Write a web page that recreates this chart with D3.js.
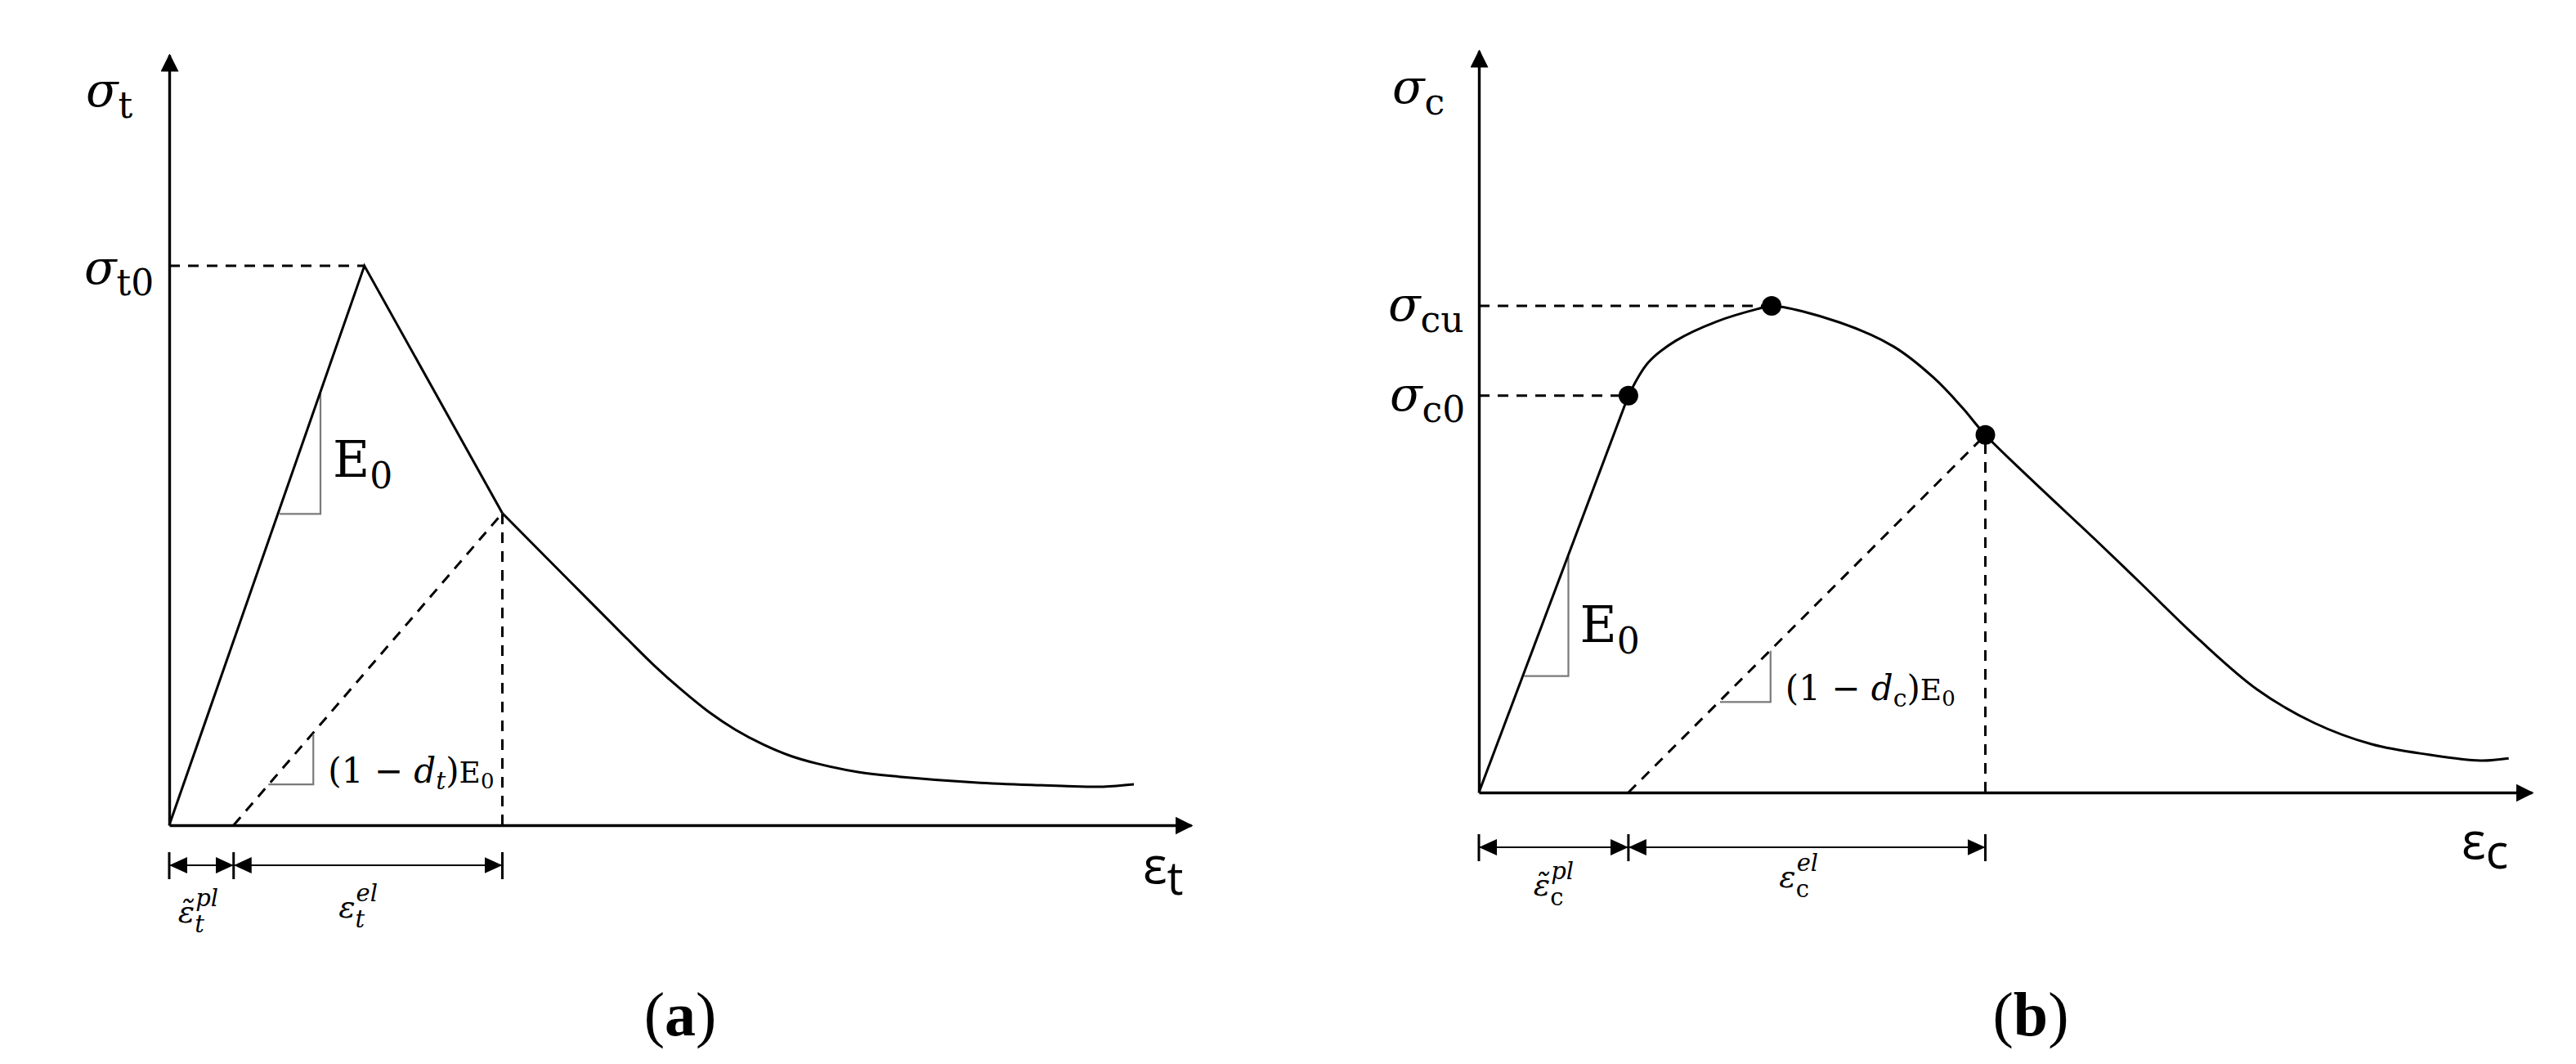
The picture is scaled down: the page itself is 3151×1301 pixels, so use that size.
<!DOCTYPE html>
<html>
<head>
<meta charset="utf-8">
<title>Tension and compression stress-strain</title>
<script src="https://cdn.jsdelivr.net/npm/d3@7"></script>
<style>
  body { margin: 0; background: #fff; }
  svg { display: block; }
  .curve { fill: none; stroke: #000; stroke-width: 3; }
  .guide { fill: none; stroke: #000; stroke-width: 3; stroke-dasharray: 13 10; }
  .slope { fill: none; stroke: #7a7a7a; stroke-width: 2.2; }
  .dim { stroke: #000; stroke-width: 2.2; }
  .dimTick { stroke: #000; stroke-width: 3; }
  .math { font-family: "DejaVu Serif", serif; fill: #000; }
  .axisName { font-family: "Open Sans", sans-serif; fill: #000; }
  .panelName { font-family: "Liberation Serif", serif; fill: #000; }
</style>
</head>
<body>
<script>
//panel (a) uniaxial tension, strain and stress in % of the drawn axis length
var tensionRise = [[0, 0], [19.1, 72.6], [32.6, 40.5]];
var tensionSoftening = [[32.6, 40.5], [39.4, 31.4], [44.8, 24.2], [47.4, 20.8], [50.1, 17.6],
                        [52.8, 14.7], [55.4, 12.4], [58.1, 10.5], [60.8, 9.0], [63.4, 8.0],
                        [67.4, 6.9], [71.4, 6.3], [79.4, 5.5], [87.4, 5.1], [91.4, 5.0], [94.4, 5.3]];
var tensionUnload = [[6.3, 0], [32.6, 40.5]];
var tensionHGuides = [[19.1, 72.6]];
var tensionVGuide = [32.6, 40.5];
var tensionSlopes = [[[10.8, 40.4], [14.8, 40.4], [14.8, 56.1]],
                     [[9.7, 5.3], [14.1, 5.3], [14.1, 11.8]]];
var tensionParts = [[0, 6.3], [6.3, 32.6]];

//panel (b) uniaxial compression
var compRise = [[0, 0], [14.2, 53.5]];
var compCurve = [[14.2, 53.5], [16.1, 58.0], [18.7, 60.9], [22.6, 63.5], [26.5, 65.2],
                 [27.8, 65.6], [34.2, 63.4], [39.4, 60.1], [43.2, 55.9],
                 [45.9, 51.9], [48.1, 48.2], [52.3, 42.4], [58.9, 33.6], [63.0, 28.0],
                 [68.4, 20.6], [73.9, 13.9], [79.3, 9.4], [84.8, 6.5], [90.2, 5.1],
                 [95.1, 4.3], [97.8, 4.6]];
var compPoints = [[14.2, 53.5], [27.8, 65.6], [48.1, 48.2]];
var compUnload = [[14.2, 0], [48.1, 48.2]];
var compHGuides = [[27.8, 65.6], [14.2, 53.5]];
var compVGuide = [48.1, 48.2];
var compSlopes = [[[4.3, 15.7], [8.5, 15.7], [8.5, 31.8]],
                  [[22.9, 12.2], [27.7, 12.2], [27.7, 19.1]]];
var compParts = [[0, 14.2], [14.2, 48.1]];

var svg = d3.select("body")
    .append("svg")
    .attr("width", 3151)
    .attr("height", 1301);

//arrow heads for axes and dimension lines
var defs = svg.append("defs");
defs.append("marker")
    .attr("id", "axisHead")
    .attr("viewBox", "0 0 22 22")
    .attr("refX", 20).attr("refY", 11)
    .attr("markerUnits", "userSpaceOnUse")
    .attr("markerWidth", 22).attr("markerHeight", 22)
    .attr("orient", "auto")
    .append("path").attr("d", "M0,0L22,11L0,22Z").attr("fill", "#000");
defs.append("marker")
    .attr("id", "dimHead")
    .attr("viewBox", "0 0 22 20")
    .attr("refX", 22).attr("refY", 10)
    .attr("markerUnits", "userSpaceOnUse")
    .attr("markerWidth", 22).attr("markerHeight", 20)
    .attr("orient", "auto-start-reverse")
    .append("path").attr("d", "M0,0L22,10L0,20Z").attr("fill", "#000");

//text made of tspans, each part can be shifted down (dy) from the baseline
function mathText(g, x, y, parts, cls){
    var t = g.append("text")
        .attr("class", cls || "math")
        .attr("x", x)
        .attr("y", y);
    var shift = 0;
    parts.forEach(function(p){
        var dy = p.dy || 0;
        t.append("tspan")
            .attr("font-size", p.size)
            .attr("font-style", p.italic ? "italic" : "normal")
            .attr("font-weight", p.bold ? "bold" : "normal")
            .attr("dy", dy - shift)
            .text(p.t);
        shift = dy;
    });
    return t;
}

//symbol with stacked subscript and superscript, centred on cx
function scriptText(g, cx, y, base, sub, subItalic, sup){
    var grp = g.append("g").attr("class", "math");
    var b = grp.append("text").attr("font-size", 38).attr("font-style", "italic").text(base);
    var w = b.node().getComputedTextLength();
    grp.append("text").attr("x", w).attr("y", 12)
        .attr("font-size", 29).attr("font-style", subItalic ? "italic" : "normal").text(sub);
    grp.append("text").attr("x", w + 1).attr("y", -20)
        .attr("font-size", 29).attr("font-style", "italic").text(sup);
    var bb = grp.node().getBBox();
    grp.attr("transform", "translate(" + (cx - bb.x - bb.width / 2) + "," + y + ")");
}

function drawPanel(p){
    var g = svg.append("g");
    var x = p.x, y = p.y;
    var line = d3.line().x(function(d){ return x(d[0]); }).y(function(d){ return y(d[1]); });
    var smooth = d3.line().x(function(d){ return x(d[0]); }).y(function(d){ return y(d[1]); })
        .curve(d3.curveCatmullRom.alpha(0.5));

    //dashed guides to the axes and the unloading line
    p.hGuides.forEach(function(pt){
        g.append("path").attr("class", "guide").attr("d", line([[0, pt[1]], pt]));
    });
    g.append("path").attr("class", "guide").attr("d", line([[p.vGuide[0], 0], p.vGuide]));
    g.append("path").attr("class", "guide").attr("d", line(p.unload));

    //slope triangles
    p.slopes.forEach(function(s){
        g.append("path").attr("class", "slope").attr("d", line(s));
    });

    //stress-strain curve
    g.append("path").attr("class", "curve").attr("d", line(p.rise));
    g.append("path").attr("class", "curve").attr("d", smooth(p.curve));

    g.selectAll(".pt")
        .data(p.dots)
        .enter()
        .append("circle")
        .attr("class", "pt")
        .attr("cx", function(d){ return x(d[0]); })
        .attr("cy", function(d){ return y(d[1]); })
        .attr("r", 12);

    //axes, no ticks, arrow at the end
    g.append("g")
        .attr("transform", "translate(0," + y(0) + ")")
        .call(d3.axisBottom(x).tickValues([]).tickSizeOuter(0))
        .select(".domain")
        .attr("stroke-width", 3.4)
        .attr("marker-end", "url(#axisHead)");
    g.append("g")
        .attr("transform", "translate(" + x(0) + ",0)")
        .call(d3.axisLeft(y).tickValues([]).tickSizeOuter(0))
        .select(".domain")
        .attr("stroke-width", 3.4)
        .attr("marker-end", "url(#axisHead)");

    //strain split dimension lines
    p.parts.forEach(function(s){
        g.append("line")
            .attr("class", "dim")
            .attr("x1", x(s[0])).attr("x2", x(s[1]))
            .attr("y1", p.dimY).attr("y2", p.dimY)
            .attr("marker-start", "url(#dimHead)")
            .attr("marker-end", "url(#dimHead)");
    });
    var edges = [p.parts[0][0], p.parts[0][1], p.parts[1][1]];
    edges.forEach(function(e){
        g.append("line")
            .attr("class", "dimTick")
            .attr("x1", x(e)).attr("x2", x(e))
            .attr("y1", p.dimY - 16).attr("y2", p.dimY + 17);
    });
    return g;
}

//panel (a)
var xA = d3.scaleLinear().domain([0, 100]).range([207, 1457]);
var yA = d3.scaleLinear().domain([0, 100]).range([1009, 67]);
var gA = drawPanel({
    x: xA, y: yA, rise: tensionRise, curve: tensionSoftening, unload: tensionUnload,
    hGuides: tensionHGuides, vGuide: tensionVGuide, slopes: tensionSlopes,
    parts: tensionParts, dots: [], dimY: 1058
});

mathText(gA, xA(0) - 102, yA(100) + 63, [{t: "σ", size: 58, italic: true}, {t: "t", size: 44, dy: 14}]);
mathText(gA, xA(0) - 104, yA(tensionHGuides[0][1]) + 22, [{t: "σ", size: 58, italic: true}, {t: "t0", size: 44, dy: 14}]);
mathText(gA, xA(tensionSlopes[0][1][0]) + 15, yA(tensionSlopes[0][1][1]) - 45,
    [{t: "E", size: 62}, {t: "0", size: 44, dy: 14}]);
mathText(gA, xA(tensionSlopes[1][1][0]) + 18, yA(tensionSlopes[1][1][1]) - 2,
    [{t: "(1 − ", size: 42}, {t: "d", size: 42, italic: true}, {t: "t", size: 30, italic: true, dy: 8},
     {t: ")", size: 42}, {t: "E", size: 36}, {t: "0", size: 26, dy: 7}]);
mathText(gA, xA(100) - 59, yA(0) + 71, [{t: "ε", size: 62}, {t: "t", size: 56, dy: 14}], "axisName");
scriptText(gA, (xA(tensionParts[0][0]) + xA(tensionParts[0][1])) / 2 - 4, 1128, "ε\u0303", "t", true, "pl");
scriptText(gA, (xA(tensionParts[1][0]) + xA(tensionParts[1][1])) / 2 - 12, 1122, "ε", "t", true, "el");
mathText(gA, 832, 1266, [{t: "(", size: 76}, {t: "a", size: 76, bold: true}, {t: ")", size: 76}], "panelName")
    .attr("text-anchor", "middle");

//panel (b)
var xB = d3.scaleLinear().domain([0, 100]).range([1809, 3097]);
var yB = d3.scaleLinear().domain([0, 100]).range([969, 62]);
var gB = drawPanel({
    x: xB, y: yB, rise: compRise, curve: compCurve, unload: compUnload,
    hGuides: compHGuides, vGuide: compVGuide, slopes: compSlopes,
    parts: compParts, dots: compPoints, dimY: 1036
});

mathText(gB, xB(0) - 106, yB(100) + 64, [{t: "σ", size: 58, italic: true}, {t: "c", size: 44, dy: 14}]);
mathText(gB, xB(0) - 111, yB(compHGuides[0][1]) + 18, [{t: "σ", size: 58, italic: true}, {t: "cu", size: 44, dy: 14}]);
mathText(gB, xB(0) - 109, yB(compHGuides[1][1]) + 18, [{t: "σ", size: 58, italic: true}, {t: "c0", size: 44, dy: 14}]);
mathText(gB, xB(compSlopes[0][1][0]) + 14, yB(compSlopes[0][1][1]) - 42,
    [{t: "E", size: 62}, {t: "0", size: 44, dy: 14}]);
mathText(gB, xB(compSlopes[1][1][0]) + 18, yB(compSlopes[1][1][1]) - 2,
    [{t: "(1 − ", size: 42}, {t: "d", size: 42, italic: true}, {t: "c", size: 30, dy: 8},
     {t: ")", size: 42}, {t: "E", size: 36}, {t: "0", size: 26, dy: 7}]);
mathText(gB, xB(100) - 86, yB(0) + 81, [{t: "ε", size: 62}, {t: "c", size: 58, dy: 12}], "axisName");
scriptText(gB, (xB(compParts[0][0]) + xB(compParts[0][1])) / 2, 1095, "ε\u0303", "c", false, "pl");
scriptText(gB, (xB(compParts[1][0]) + xB(compParts[1][1])) / 2 - 10, 1085, "ε", "c", false, "el");
mathText(gB, 2484, 1266, [{t: "(", size: 76}, {t: "b", size: 76, bold: true}, {t: ")", size: 76}], "panelName")
    .attr("text-anchor", "middle");
</script>
</body>
</html>
